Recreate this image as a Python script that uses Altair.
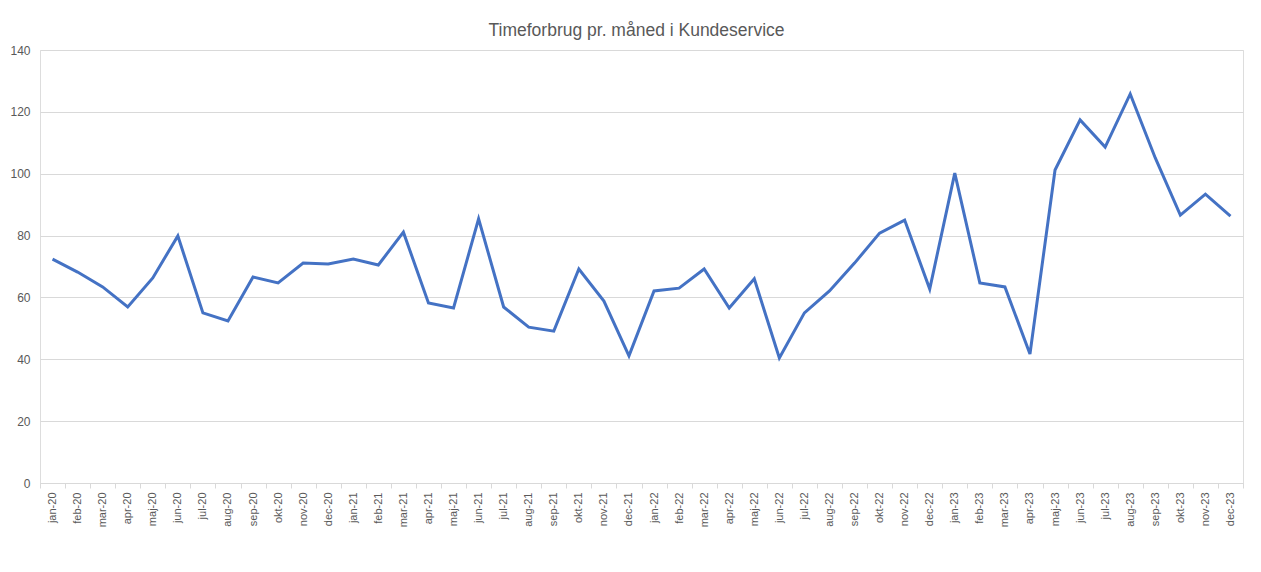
import altair as alt
import pandas as pd

months = ["jan", "feb", "mar", "apr", "maj", "jun", "jul", "aug", "sep", "okt", "nov", "dec"]
years = ["20", "21", "22", "23"]
labels = [f"{m}-{y}" for y in years for m in months]

values = [
    72.4, 68.2, 63.4, 56.9, 66.3, 79.9, 55.0, 52.4, 66.6, 64.7, 71.1, 70.8,
    72.4, 70.5, 81.1, 58.2, 56.6, 85.4, 56.9, 50.4, 49.1, 69.2, 58.8, 41.1,
    62.1, 63.0, 69.2, 56.6, 66.0, 40.4, 55.0, 62.1, 71.1, 80.8, 85.0, 62.7,
    100.2, 64.7, 63.4, 41.7, 101.2, 117.4, 108.6, 125.8, 105.1, 86.6, 93.4, 86.3,
]

df = pd.DataFrame({"maaned": labels, "timer": values})

FONT = "Liberation Sans"
GREY = "#595959"

chart = (
    alt.Chart(df)
    .mark_line(color="#4472C4", strokeWidth=3, strokeJoin="miter", strokeCap="butt")
    .encode(
        x=alt.X(
            "maaned:O",
            sort=labels,
            bandPosition=0.5,
            scale=alt.Scale(type="band", paddingInner=0, paddingOuter=0),
            axis=alt.Axis(
                title=None,
                labelAngle=-90,
                labelAlign="right",
                labelBaseline="middle",
                labelFontSize=11,
                labelColor=GREY,
                labelFont=FONT,
                labelPadding=4,
                tickBand="extent",
                ticks=True,
                tickSize=5,
                tickColor="#d9d9d9",
                domainColor="#d9d9d9",
                grid=False,
            ),
        ),
        y=alt.Y(
            "timer:Q",
            scale=alt.Scale(domain=[0, 140], nice=False),
            axis=alt.Axis(
                title=None,
                values=[0, 20, 40, 60, 80, 100, 120, 140],
                labelFontSize=12,
                labelColor=GREY,
                labelFont=FONT,
                labelPadding=10,
                ticks=False,
                domain=False,
                gridColor="#d9d9d9",
                gridWidth=1,
            ),
        ),
    )
    .properties(
        width=1203,
        height=433,
        title=alt.TitleParams(
            "Timeforbrug pr. måned i Kundeservice",
            fontSize=17.5,
            font=FONT,
            color=GREY,
            fontWeight="normal",
            anchor="middle",
            offset=5,
            dx=-5,
        ),
        autosize=alt.AutoSizeParams(type="none"),
        padding={"left": 32, "top": 42, "right": 10, "bottom": 80},
    )
    .configure_view(stroke=None)
    .configure(background="white")
)

chart.save("out.html", embed_options={"renderer": "svg", "actions": False})
